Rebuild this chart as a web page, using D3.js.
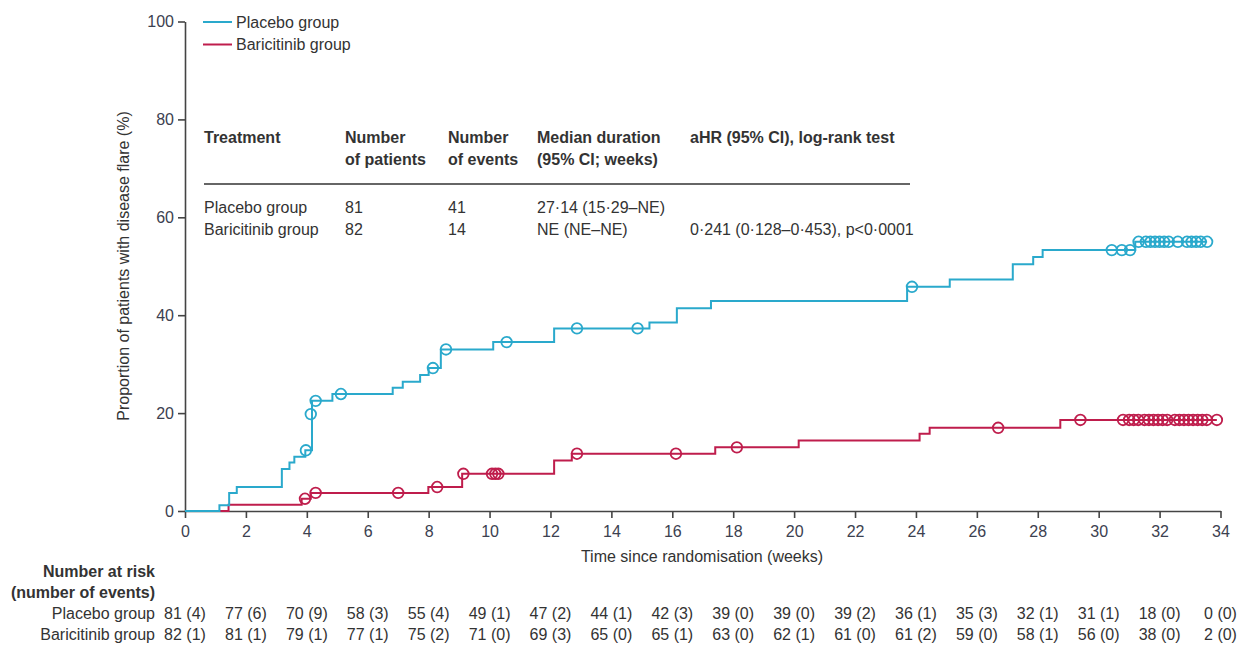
<!DOCTYPE html>
<html lang="en">
<head>
  <meta charset="UTF-8">
  <title>Time to disease flare</title>
  <script src="https://d3js.org/d3.v7.min.js"></script>
  <style>
    body {
      margin: 0;
      background: #fff;
      font-family: "Liberation Sans", Arial, sans-serif;
    }
    text {
      fill: #333;
      font-size: 16px;
    }
    .axis path, .axis line {
      stroke: #444;
      stroke-width: 1.6;
    }
    .axis text {
      fill: #3c4150;
      font-size: 16px;
    }
    .km {
      fill: none;
      stroke-width: 2;
    }
    .cens {
      fill: none;
      stroke-width: 1.8;
    }
    .bold { font-weight: bold; }
  </style>
</head>
<body>
<script>
  // step points [week, cumulative % with flare]
  const placeboSteps = [
    [0, 0], [1.13, 1.2], [1.45, 3.7], [1.70, 4.9], [3.18, 8.6], [3.43, 9.9],
    [3.59, 11.1], [3.95, 12.4], [4.17, 22.5], [4.84, 23.9], [6.82, 25.2],
    [7.15, 26.4], [7.72, 27.8], [8.0, 29.2], [8.4, 33.0], [10.12, 34.5],
    [12.12, 37.3], [15.25, 38.5], [16.15, 41.4], [17.27, 42.9], [23.71, 45.8],
    [25.11, 47.3], [27.18, 50.4], [27.85, 51.9], [28.16, 53.3], [31.2, 55.0],
    [33.56, 55.0]
  ];
  const baricitinibSteps = [
    [0, 0], [1.43, 1.3], [3.83, 2.5], [4.13, 3.7], [7.99, 4.9], [9.1, 7.6],
    [12.12, 10.3], [12.7, 11.7], [17.41, 13.0], [20.15, 14.4], [24.12, 15.8],
    [24.45, 17.0], [28.74, 18.6], [33.88, 18.6]
  ];
  // censored marks [week, %]
  const placeboCensored = [
    [3.97, 12.4], [4.13, 19.8], [4.29, 22.5], [5.12, 23.9], [8.14, 29.2],
    [8.57, 33.0], [10.56, 34.5], [12.87, 37.3], [14.86, 37.3], [23.87, 45.8],
    [30.43, 53.3], [30.76, 53.3], [31.03, 53.3], [31.31, 55.0], [31.55, 55.0],
    [31.7, 55.0], [31.85, 55.0], [32.0, 55.0], [32.15, 55.0], [32.3, 55.0],
    [32.6, 55.0], [32.9, 55.0], [33.05, 55.0], [33.2, 55.0], [33.35, 55.0],
    [33.56, 55.0]
  ];
  const baricitinibCensored = [
    [3.94, 2.5], [4.29, 3.7], [7.0, 3.7], [8.28, 4.9], [9.14, 7.6], [10.08, 7.6],
    [10.19, 7.6], [10.29, 7.6], [12.87, 11.7], [16.12, 11.7], [18.12, 13.0],
    [26.7, 17.0], [29.4, 18.6], [30.8, 18.6], [31.0, 18.6], [31.15, 18.6],
    [31.3, 18.6], [31.5, 18.6], [31.65, 18.6], [31.8, 18.6], [31.95, 18.6],
    [32.1, 18.6], [32.25, 18.6], [32.5, 18.6], [32.65, 18.6], [32.8, 18.6],
    [32.95, 18.6], [33.1, 18.6], [33.25, 18.6], [33.4, 18.6], [33.55, 18.6],
    [33.88, 18.6]
  ];

  const xTicks = [0, 2, 4, 6, 8, 10, 12, 14, 16, 18, 20, 22, 24, 26, 28, 30, 32, 34];
  const yTicks = [0, 20, 40, 60, 80, 100];

  const groups = ["Placebo group", "Baricitinib group"];
  const placeboAtRisk = [81, 77, 70, 58, 55, 49, 47, 44, 42, 39, 39, 39, 36, 35, 32, 31, 18, 0];
  const placeboEvents = [4, 6, 9, 3, 4, 1, 2, 1, 3, 0, 0, 2, 1, 3, 1, 1, 0, 0];
  const baricitinibAtRisk = [82, 81, 79, 77, 75, 71, 69, 65, 65, 63, 62, 61, 61, 59, 58, 56, 38, 2];
  const baricitinibEvents = [1, 1, 1, 1, 2, 0, 3, 0, 1, 0, 1, 0, 2, 0, 1, 0, 0, 0];

  const tableHeader = [
    ["Treatment", ""], ["Number", "of patients"], ["Number", "of events"],
    ["Median duration", "(95% CI; weeks)"], ["aHR (95% CI), log-rank test", ""]
  ];
  const tableRows = [
    ["Placebo group", "81", "41", "27·14 (15·29–NE)", ""],
    ["Baricitinib group", "82", "14", "NE (NE–NE)", "0·241 (0·128–0·453), p<0·0001"]
  ];

  const colors = { placebo: "#2aa9cc", baricitinib: "#bf1d4c" };

  const W = 1240, H = 646;
  const margin = { top: 21.5, left: 185, right: 20, bottom: 135 };

  const svg = d3.select("body").append("svg")
    .attr("width", W).attr("height", H);

  const x = d3.scaleLinear().domain([0, 34]).range([margin.left, 1220.5]);
  const y = d3.scaleLinear().domain([0, 100]).range([511, margin.top]);

  // axes
  svg.append("g")
    .attr("class", "axis")
    .attr("transform", `translate(0,${y(0)})`)
    .call(d3.axisBottom(x).tickValues(xTicks).tickSize(7).tickSizeOuter(0).tickPadding(5))
    .call(g => g.selectAll("text").attr("dy", "0.85em"));

  svg.append("g")
    .attr("class", "axis")
    .attr("transform", `translate(${x(0)},0)`)
    .call(d3.axisLeft(y).tickValues(yTicks).tickSize(7).tickSizeOuter(0).tickPadding(4));

  // axis titles
  svg.append("text")
    .attr("x", 702).attr("y", 562)
    .attr("text-anchor", "middle")
    .text("Time since randomisation (weeks)");

  svg.append("text")
    .attr("transform", `translate(129,${266}) rotate(-90)`)
    .attr("text-anchor", "middle")
    .text("Proportion of patients with disease flare (%)");

  // curves
  const line = d3.line()
    .x(d => x(d[0]))
    .y(d => y(d[1]))
    .curve(d3.curveStepAfter);

  const series = [
    { steps: placeboSteps, cens: placeboCensored, color: colors.placebo },
    { steps: baricitinibSteps, cens: baricitinibCensored, color: colors.baricitinib }
  ];

  // draw baricitinib under placebo? placebo starts under red at zero
  series.slice().reverse().forEach(s => {
    svg.append("path")
      .datum(s.steps)
      .attr("class", "km")
      .attr("stroke", s.color)
      .attr("d", line);
  });
  series.forEach(s => {
    svg.append("g").selectAll("circle")
      .data(s.cens)
      .join("circle")
      .attr("class", "cens")
      .attr("stroke", s.color)
      .attr("cx", d => x(d[0]))
      .attr("cy", d => y(d[1]))
      .attr("r", 5.3);
  });

  // legend
  const legend = svg.append("g");
  [colors.placebo, colors.baricitinib].forEach((c, i) => {
    const ly = 22 + i * 22.5;
    legend.append("line")
      .attr("x1", 203).attr("x2", 232)
      .attr("y1", ly).attr("y2", ly)
      .attr("stroke", c).attr("stroke-width", 2);
    legend.append("text")
      .attr("x", 236).attr("y", ly + 5.5)
      .text(groups[i]);
  });

  // inset table
  const colX = [204, 345, 448, 537, 690];
  const table = svg.append("g");
  tableHeader.forEach((h, i) => {
    table.append("text").attr("class", "bold")
      .attr("x", colX[i]).attr("y", 143).text(h[0]);
    if (h[1]) table.append("text").attr("class", "bold")
      .attr("x", colX[i]).attr("y", 165).text(h[1]);
  });
  table.append("line")
    .attr("x1", 204).attr("x2", 910)
    .attr("y1", 184).attr("y2", 184)
    .attr("stroke", "#333").attr("stroke-width", 1.3);
  tableRows.forEach((r, j) => {
    r.forEach((v, i) => {
      if (v) table.append("text")
        .attr("x", colX[i]).attr("y", 213 + j * 22).text(v);
    });
  });

  // number at risk
  const risk = svg.append("g");
  risk.append("text").attr("class", "bold")
    .attr("x", 155).attr("y", 577).attr("text-anchor", "end")
    .text("Number at risk");
  risk.append("text").attr("class", "bold")
    .attr("x", 155).attr("y", 598).attr("text-anchor", "end")
    .text("(number of events)");

  const riskRows = [
    { at: placeboAtRisk, ev: placeboEvents },
    { at: baricitinibAtRisk, ev: baricitinibEvents }
  ];
  riskRows.forEach((r, j) => {
    const ry = 619 + j * 21;
    risk.append("text")
      .attr("x", 155).attr("y", ry).attr("text-anchor", "end")
      .text(groups[j]);
    risk.append("g").selectAll("text")
      .data(xTicks)
      .join("text")
      .attr("x", d => x(d))
      .attr("y", ry)
      .attr("text-anchor", "middle")
      .text((d, i) => `${r.at[i]} (${r.ev[i]})`);
  });
</script>
</body>
</html>
